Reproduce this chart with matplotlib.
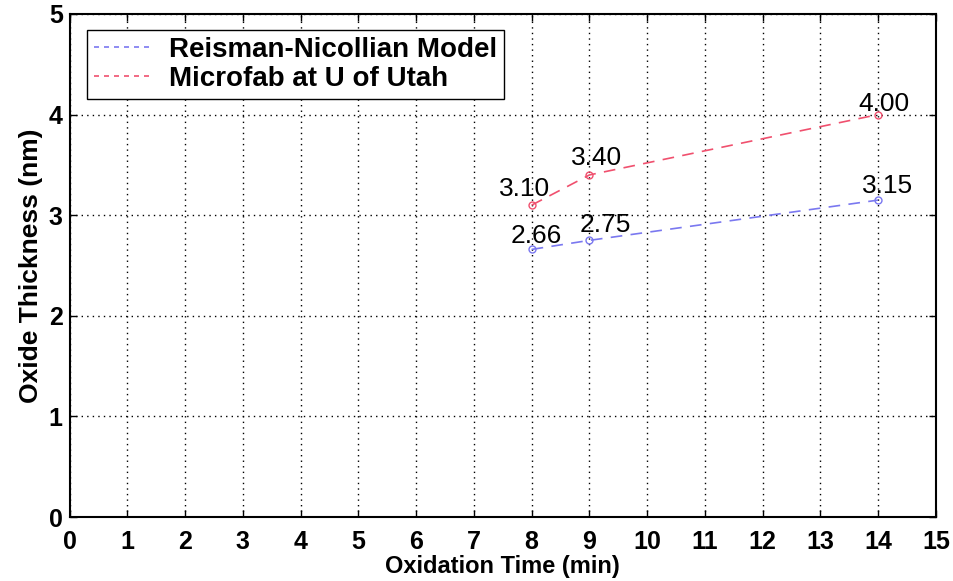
import matplotlib
matplotlib.use("Agg")
import matplotlib.pyplot as plt

# oxide thickness vs oxidation time
time_min = [8, 9, 14]
model_nm = [2.66, 2.75, 3.15]
utah_nm = [3.10, 3.40, 4.00]
model_name = "Reisman-Nicollian Model"
utah_name = "Microfab at U of Utah"

plt.rcParams["font.family"] = ["Liberation Sans", "DejaVu Sans"]

fig = plt.figure(figsize=(9.54, 5.81), dpi=100)
ax = fig.add_axes([0.073, 0.110, 0.908, 0.866])

blue = "#7a78f0"
red = "#f0506e"
ax.plot(time_min, model_nm, color=blue, lw=1.2, marker="o", ms=5,
        mfc="none", mec=blue, dashes=(7, 5), label=model_name)
ax.plot(time_min, utah_nm, color=red, lw=1.2, marker="o", ms=5,
        mfc="none", mec=red, dashes=(7, 5), label=utah_name)

# value labels, nudged off the markers (pixels)
model_off = [(5, 13), (16, 15), (9, 14)]
utah_off = [(-7, 16), (7, 17), (6, 11)]
for xs, ys, offs in ((time_min, model_nm, model_off), (time_min, utah_nm, utah_off)):
    for x, y, o in zip(xs, ys, offs):
        ax.annotate(f"{y:.2f}", (x, y), xytext=o, textcoords="offset pixels",
                    ha="center", va="center", fontsize=19)

ax.set_xlim(0, 15)
ax.set_ylim(0, 5)
ax.set_xticks(range(0, 16))
ax.set_yticks(range(0, 6))
ax.grid(True, color="black", linestyle=(0, (1, 3)), lw=1)
ax.tick_params(direction="in", top=True, right=True, length=5, width=1, pad=5)
ax.tick_params(axis="x", pad=9)
for lab in ax.get_xticklabels() + ax.get_yticklabels():
    lab.set_fontweight("bold")
    lab.set_fontsize(18)
for s in ax.spines.values():
    s.set_linewidth(1.5)

ax.set_xlabel("Oxidation Time (min)", fontsize=17, fontweight="bold", labelpad=1)
ax.set_ylabel("Oxide Thickness (nm)", fontsize=19, fontweight="bold", labelpad=4)

leg = ax.legend(loc="upper left", bbox_to_anchor=(0.004, 0.996),
                prop={"weight": "bold", "size": 20}, fancybox=False,
                edgecolor="black", framealpha=1, handlelength=2.1,
                handletextpad=0.6, borderpad=0.25, labelspacing=0.1)
leg.get_frame().set_linewidth(1)
for h in leg.get_lines():
    h.set_marker("")
    h.set_dashes((3, 3))

fig.savefig("out.png", dpi=100)
